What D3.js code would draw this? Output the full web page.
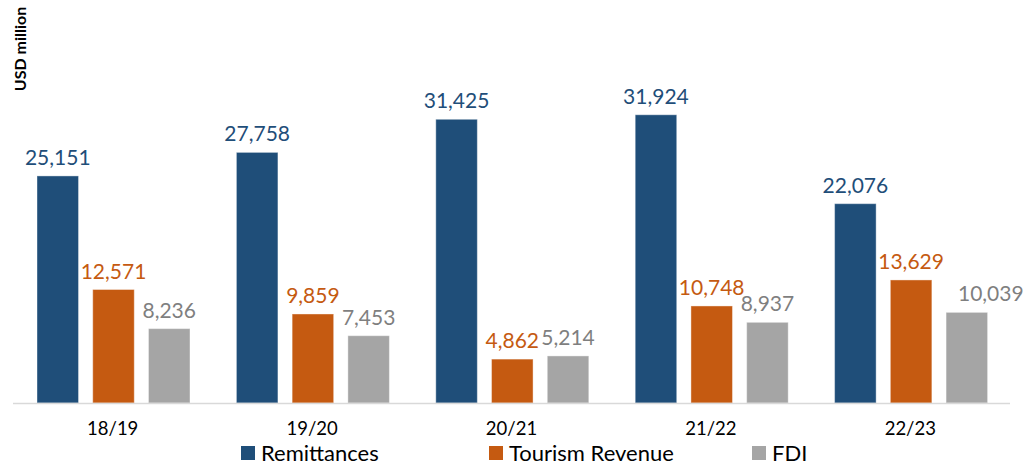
<!DOCTYPE html>
<html>
<head>
<meta charset="utf-8">
<script src="https://cdn.jsdelivr.net/npm/d3@7"></script>
<style>
  body { margin: 0; background: #fff; }
  text { font-family: Lato, "Open Sans", sans-serif; }
</style>
</head>
<body>
<div id="chart"></div>
<script>
var years = ["18/19", "19/20", "20/21", "21/22", "22/23"];
var seriesNames = ["Remittances", "Tourism Revenue", "FDI"];
var remittances = [25151, 27758, 31425, 31924, 22076];
var tourism = [12571, 9859, 4862, 10748, 13629];
var fdi = [8236, 7453, 5214, 8937, 10039];

var svgWidth = 1030;
var svgHeight = 466;

var barColors = ["#1f4e79", "#c55a11", "#a5a5a5"];
var labelColors = ["#1f4e79", "#c55a11", "#7f7f7f"];

var svg = d3.select("#chart")
  .append("svg")
  .attr("width", svgWidth)
  .attr("height", svgHeight);

// build rows from the arrays
var seriesValues = [remittances, tourism, fdi];
var rows = years.map(function(y, i) {
  return { year: y, values: seriesValues.map(function(s, j) { return { key: j, value: s[i] }; }) };
});

var x0 = d3.scaleBand()
  .domain(years)
  .range([13, 1010])
  .paddingInner(0)
  .paddingOuter(0);

var x1 = d3.scaleBand()
  .domain([0, 1, 2])
  .range([24, 177])
  .paddingInner(0.255);

var y = d3.scaleLinear()
  .domain([0, 35000])
  .range([403, 87]);

// bars
var groups = svg.selectAll(".grp")
  .data(rows)
  .enter()
  .append("g")
  .attr("class", "grp")
  .attr("transform", d => `translate(${x0(d.year)},0)`);

groups.selectAll("rect")
  .data(d => d.values)
  .enter()
  .append("rect")
  .attr("x", d => x1(d.key))
  .attr("y", d => y(d.value))
  .attr("width", x1.bandwidth())
  .attr("height", d => y(0) - y(d.value))
  .attr("fill", d => barColors[d.key])
  .attr("stroke", "#ffffff")
  .attr("stroke-opacity", 0.4)
  .attr("stroke-width", 1);

// value labels (the last FDI label is nudged right like in the original)
groups.selectAll(".val")
  .data((d, i) => d.values.map(v => Object.assign({ cat: i }, v)))
  .enter()
  .append("text")
  .attr("class", "val")
  .attr("x", d => x1(d.key) + x1.bandwidth() / 2 + (d.cat === 4 && d.key === 2 ? 24 : 0))
  .attr("y", d => y(d.value) - 11)
  .attr("text-anchor", "middle")
  .attr("font-size", "21px")
  .attr("fill", d => labelColors[d.key])
  .text(d => d3.format(",")(d.value));

// baseline
svg.append("line")
  .attr("x1", 13)
  .attr("x2", 1010)
  .attr("y1", y(0) + 0.5)
  .attr("y2", y(0) + 0.5)
  .attr("stroke", "#d9d9d9")
  .attr("stroke-width", 1.5);

// category labels
var xAxis = svg.append("g")
  .attr("transform", `translate(0, ${y(0)})`)
  .call(d3.axisBottom(x0).tickSize(0).tickPadding(0));
xAxis.select(".domain").remove();
xAxis.selectAll("text")
  .attr("font-size", "18.5px")
  .attr("fill", "#000")
  .attr("font-family", "Lato, 'Open Sans', sans-serif")
  .attr("dy", "0")
  .attr("y", 32);

// y axis title
svg.append("text")
  .attr("transform", "translate(26, 49) rotate(-90)")
  .attr("text-anchor", "middle")
  .attr("font-size", "16px")
  .attr("font-weight", "bold")
  .attr("fill", "#000")
  .text("USD million");

// legend
var legendX = [241, 489, 752];
var legend = svg.selectAll(".legend")
  .data(seriesNames)
  .enter()
  .append("g")
  .attr("class", "legend")
  .attr("transform", (d, i) => `translate(${legendX[i]}, 446)`);

legend.append("rect")
  .attr("width", 14)
  .attr("height", 14)
  .attr("fill", (d, i) => barColors[i]);

legend.append("text")
  .attr("x", 20)
  .attr("y", 15)
  .attr("font-size", "22px")
  .attr("fill", "#000")
  .text(d => d);
</script>
</body>
</html>
